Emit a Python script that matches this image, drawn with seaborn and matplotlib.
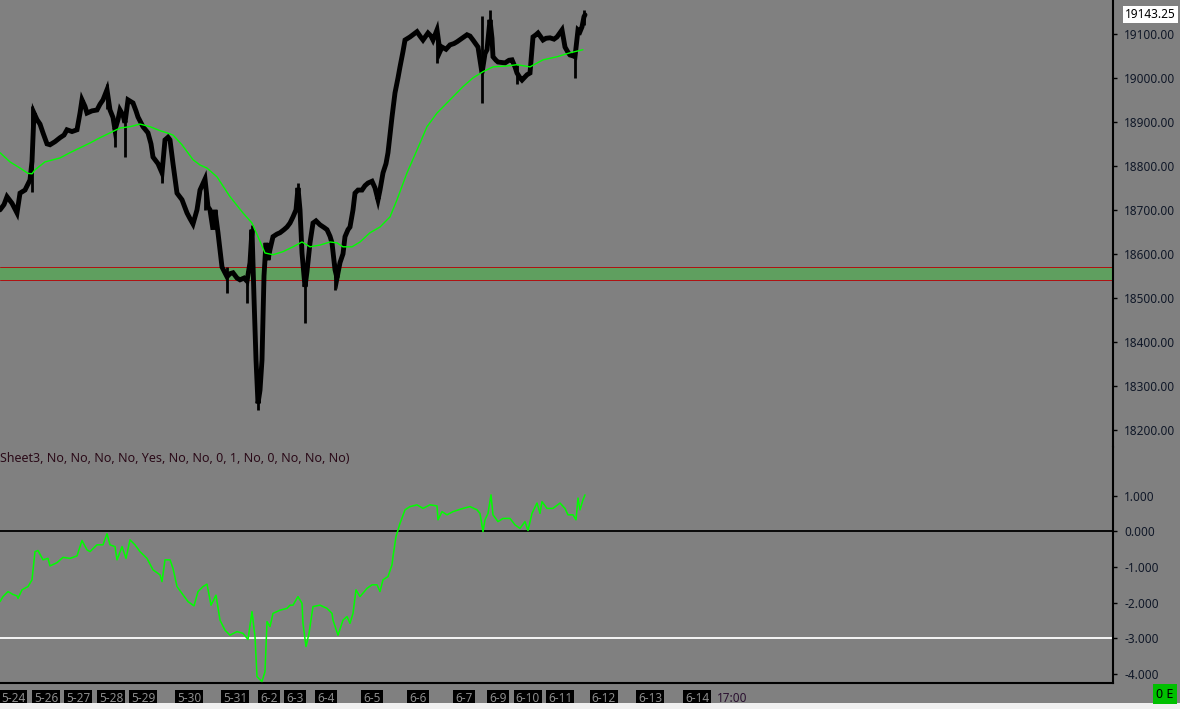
import numpy as np
import pandas as pd
import matplotlib
matplotlib.use("Agg")
import matplotlib.pyplot as plt
from matplotlib.patches import Rectangle
import seaborn as sns

sns.set_style("white")
plt.rcParams['font.family'] = ['Noto Sans', 'DejaVu Sans']

# price (close) path, bar number -> value
price_bar = [0, 4, 7, 12, 17, 20, 25, 30, 32, 34, 37, 40, 43, 47, 50, 55, 60, 64, 67, 72,
             77, 80, 82, 85, 87, 92, 97, 100, 103, 107, 110, 113, 115, 118, 120, 123, 125, 128, 133, 136,
             138, 143, 148, 151, 153, 158, 162, 165, 168, 170, 173, 177, 182, 187, 190, 193, 197, 200, 205, 208,
             210, 213, 215, 218, 222, 227, 230, 233, 237, 240, 244, 247, 250, 252, 254, 256, 258, 260, 262, 264,
             266, 268, 270, 273, 277, 280, 284, 287, 290, 293, 296, 298, 300, 302, 305, 307, 310, 313, 316, 320,
             324, 327, 330, 332, 335, 337, 340, 343, 345, 348, 350, 353, 355, 358, 362, 365, 368, 372, 375, 378,
             380, 383, 386, 388, 390, 392, 395, 398, 400, 403, 405, 410, 414, 417, 420, 423, 428, 431, 433, 437,
             440, 442, 446, 450, 454, 457, 462, 467, 470, 473, 478, 480, 482, 485, 487, 490, 492, 493, 496, 498,
             502, 505, 509, 512, 515, 517, 520, 522, 525, 527, 530, 533, 536, 538, 543, 546, 550, 554, 557, 562,
             565, 568, 570, 573, 575, 578, 580, 582, 584, 585]
price = [18700, 18712, 18730, 18715, 18693, 18738, 18745, 18768, 18810, 18920, 18905, 18895, 18875, 18850, 18848, 18855, 18864, 18870, 18882, 18878,
         18882, 18920, 18950, 18935, 18920, 18925, 18927, 18940, 18950, 18973, 18927, 18910, 18882, 18905, 18927, 18915, 18898, 18950, 18943, 18925,
         18911, 18889, 18875, 18850, 18820, 18805, 18784, 18859, 18865, 18859, 18805, 18738, 18723, 18693, 18680, 18668, 18700, 18745, 18770, 18707,
         18700, 18655, 18700, 18648, 18570, 18548, 18555, 18557, 18545, 18541, 18545, 18538, 18580, 18655, 18500, 18360, 18260, 18290, 18359, 18550,
         18625, 18586, 18610, 18639, 18645, 18648, 18655, 18661, 18670, 18684, 18700, 18750, 18700, 18602, 18525, 18560, 18625, 18670, 18675, 18666,
         18660, 18655, 18640, 18625, 18564, 18545, 18580, 18600, 18639, 18655, 18661, 18700, 18738, 18745, 18745, 18755, 18761, 18765, 18750, 18723,
         18745, 18784, 18805, 18830, 18870, 18911, 18966, 19000, 19025, 19060, 19086, 19093, 19100, 19105, 19095, 19086, 19102, 19095, 19086, 19109,
         19060, 19070, 19065, 19075, 19078, 19082, 19090, 19098, 19095, 19086, 19070, 19040, 19011, 19055, 19064, 19132, 19090, 19048, 19040, 19036,
         19035, 19034, 19040, 19041, 19025, 19011, 19000, 18995, 19002, 19007, 19011, 19093, 19098, 19102, 19086, 19090, 19091, 19088, 19093, 19109,
         19070, 19058, 19052, 19050, 19048, 19109, 19105, 19116, 19139, 19143.25]

# long wicks
wick_bar = [32, 107, 115, 125, 162, 205, 227, 247, 252, 258, 298, 305, 335, 437, 482, 490, 517, 575, 584]
wick_low = [18740, 18930, 18843, 18820, 18761, 18700, 18511, 18489, 18560, 18245, 18700, 18443, 18518, 19034, 18943, 19090, 18985, 19000, 19120]
wick_high = [18935, 18985, 18900, 18920, 18800, 18780, 18570, 18560, 18665, 18330, 18760, 18560, 18580, 19115, 19140, 19155, 19030, 19060, 19155]

# moving average
ma_bar = [0, 10, 20, 28, 32, 35, 45, 60, 70, 80, 90, 100, 110, 120, 130, 140, 150, 160, 167, 173,
          182, 193, 200, 207, 217, 230, 243, 252, 258, 265, 273, 283, 293, 302, 310, 320, 330, 337, 343, 352,
          360, 370, 380, 390, 397, 407, 417, 427, 437, 450, 463, 473, 483, 493, 507, 517, 530, 543, 557, 570, 583]
ma = [18830, 18809, 18795, 18783, 18782, 18791, 18809, 18818, 18830, 18841, 18852, 18864, 18875, 18886, 18889, 18895, 18889, 18880, 18875, 18870,
      18848, 18814, 18802, 18795, 18775, 18730, 18693, 18670, 18639, 18602, 18598, 18605, 18616, 18627, 18616, 18620, 18627, 18625, 18616, 18616,
      18627, 18648, 18661, 18684, 18723, 18784, 18836, 18889, 18920, 18950, 18980, 19000, 19014, 19025, 19027, 19030, 19025, 19041, 19048, 19057, 19064]

# oscillator (lower panel)
osc_bar = [0, 3, 8, 13, 17, 18, 22, 28, 32, 35, 38, 43, 48, 50, 57, 63, 70, 77, 82, 87,
           90, 97, 103, 107, 110, 115, 117, 122, 126, 130, 135, 140, 147, 153, 160, 162, 165, 170, 173, 177,
           182, 188, 194, 198, 203, 207, 211, 216, 220, 225, 230, 237, 243, 248, 252, 255, 257, 262, 265, 267,
           270, 273, 280, 287, 290, 293, 298, 302, 303, 306, 309, 313, 320, 327, 332, 333, 338, 343, 347, 350,
           353, 356, 360, 367, 372, 377, 380, 383, 388, 392, 393, 396, 400, 405, 410, 417, 423, 430, 437, 438,
           442, 447, 453, 463, 470, 477, 480, 483, 485, 488, 491, 493, 498, 503, 510, 515, 520, 525, 528, 532,
           537, 540, 542, 547, 553, 560, 565, 568, 573, 576, 578, 580, 583, 585]
osc = [-1.97, -1.83, -1.69, -1.77, -1.81, -1.88, -1.64, -1.55, -1.36, -0.57, -0.54, -0.80, -0.76, -0.97, -0.88, -0.73, -0.76, -0.69, -0.26, -0.52,
       -0.57, -0.38, -0.38, -0.07, -0.38, -0.43, -0.80, -0.43, -0.76, -0.24, -0.38, -0.57, -0.76, -1.08, -1.22, -1.41, -0.80, -0.80, -1.04, -1.55,
       -1.74, -1.97, -2.09, -1.69, -1.55, -1.48, -2.07, -1.79, -2.49, -2.77, -2.91, -2.81, -2.86, -3.03, -2.25, -2.95, -4.07, -4.21, -3.93, -2.53,
       -2.67, -2.30, -2.21, -2.16, -2.07, -2.07, -1.83, -2.02, -2.58, -3.23, -2.86, -2.11, -2.07, -2.16, -2.30, -2.49, -2.91, -2.49, -2.39, -2.58,
       -2.30, -1.64, -1.83, -1.60, -1.50, -1.50, -1.69, -1.36, -1.27, -0.94, -0.71, -0.15, 0.22, 0.60, 0.69, 0.74, 0.64, 0.74, 0.71, 0.32,
       0.55, 0.46, 0.55, 0.64, 0.69, 0.60, 0.50, -0.01, 0.32, 0.50, 1.02, 0.46, 0.27, 0.36, 0.36, 0.18, 0.08, 0.27, 0.02, 0.50,
       0.79, 0.50, 0.83, 0.64, 0.64, 0.79, 0.64, 0.46, 0.46, 0.32, 0.93, 0.60, 0.88, 1.02]

zone_low, zone_high = 18541, 18570
last_price = 19143.25

date_bar = [13, 46, 78, 111, 143, 189, 235, 269, 295, 326, 372, 418, 464, 498, 528, 560, 604, 650, 697, 732]
date_lbl = ['5-24', '5-26', '5-27', '5-28', '5-29', '5-30', '5-31', '6-2', '6-3', '6-4', '6-5',
            '6-6', '6-7', '6-9', '6-10', '6-11', '6-12', '6-13', '6-14', '17:00']

price_df = pd.DataFrame({'bar': price_bar, 'price': price})
ma_df = pd.DataFrame({'bar': ma_bar, 'ma': ma})
osc_df = pd.DataFrame({'bar': osc_bar, 'osc': osc})

bg = '#808080'
fig = plt.figure(figsize=(11.8, 7.09), dpi=100, facecolor=bg)
W, H = 1180, 709
ax1 = fig.add_axes([0, 1 - 447 / H, 1113 / W, 447 / H], facecolor=bg)
ax2 = fig.add_axes([0, 1 - 683 / H, 1113 / W, (683 - 447) / H], facecolor=bg, sharex=ax1)

# upper panel
ax1.axhspan(zone_low, zone_high, facecolor='#5f9f5f', edgecolor='none', zorder=1)
ax1.axhline(zone_low, color='#b01010', lw=0.7, zorder=1)
ax1.axhline(zone_high, color='#b01010', lw=0.7, zorder=1)
ax1.vlines(wick_bar, wick_low, wick_high, color='black', lw=2, zorder=3)
sns.lineplot(data=price_df, x='bar', y='price', estimator=None, sort=False, color='black', lw=3.5,
             solid_joinstyle='miter', ax=ax1, zorder=3)
sns.lineplot(data=ma_df, x='bar', y='ma', estimator=None, sort=False, color='#00ff00', lw=1, ax=ax1, zorder=4)
ax1.set_ylim(18161, 19177)
ax1.set_yticks(np.arange(18200, 19101, 100))
ax1.set_yticklabels(['%.2f' % v for v in np.arange(18200, 19101, 100)])
ax1.text(1.0105, last_price, '%.2f' % last_price, transform=ax1.get_yaxis_transform(), ha='left', va='center',
         fontsize=8.5, color='black', bbox=dict(facecolor='white', edgecolor='none', pad=1.5))

# lower panel
ax2.axhline(0, color='black', lw=1.3, zorder=1)
ax2.axhline(-3, color='white', lw=1.3, zorder=1)
sns.lineplot(data=osc_df, x='bar', y='osc', estimator=None, sort=False, color='#00ff00', lw=1.1,
             ax=ax2, zorder=3)
ax2.set_ylim(-4.25, 2.36)
ax2.set_yticks([1, 0, -1, -2, -3, -4])
ax2.set_yticklabels(['%.3f' % v for v in [1, 0, -1, -2, -3, -4]])
ax2.text(0, 0.953, 'Sheet3, No, No, No, No, Yes, No, No, 0, 1, No, 0, No, No, No)', transform=ax2.transAxes,
         ha='left', va='center', fontsize=9, color='#2a0a18')

ax1.set_xlim(0, 1113)
for ax in (ax1, ax2):
    ax.set_xlabel('')
    ax.set_ylabel('')
    ax.yaxis.tick_right()
    ax.tick_params(axis='y', direction='out', length=3, width=1, color='black', pad=5,
                   labelsize=8.5, labelcolor='#101828')
    for s in ('left', 'top', 'bottom'):
        ax.spines[s].set_visible(False)
    ax.spines['right'].set_color('black')
    ax.spines['right'].set_linewidth(1.5)

ax1.tick_params(axis='x', which='both', bottom=False, labelbottom=False)
ax2.spines['bottom'].set_visible(True)
ax2.spines['bottom'].set_color('black')
ax2.spines['bottom'].set_linewidth(1.5)
ax2.set_xticks(date_bar)
ax2.set_xticklabels(date_lbl)
ax2.tick_params(axis='x', direction='out', length=4, width=1, color='black', pad=2.5,
                labelsize=8.5, labelcolor='#8c8c8c')
for lbl in ax2.get_xticklabels()[:-1]:
    lbl.set_bbox(dict(facecolor='black', edgecolor='none', pad=1.4))
ax2.get_xticklabels()[-1].set_color('#2a1030')

fig.text(1165 / W, 1 - 694 / H, '0 E', ha='center', va='center', fontsize=9, color='black',
         bbox=dict(facecolor='#00c000', edgecolor='none', pad=2.5))
fig.add_artist(Rectangle((0, 0), 1, 6 / H, transform=fig.transFigure, facecolor='#f0f0f0', edgecolor='none'))

fig.savefig('out.png', dpi=100, facecolor=bg)
